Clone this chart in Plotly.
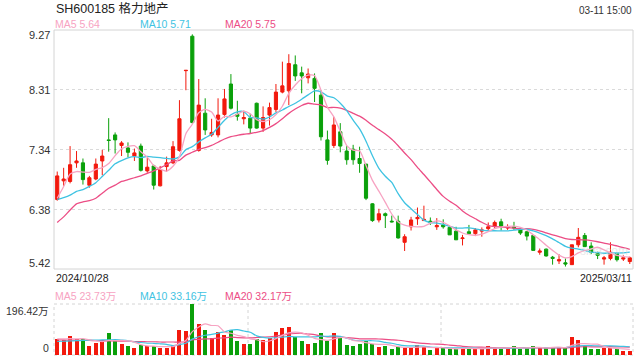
import plotly.graph_objects as go

# ---------------- data ----------------
first_date = "2024/10/28"
last_date = "2025/03/11"
title_text = "SH600185 格力地产"
time_text = "03-11 15:00"
watermark = "sina.com"
price_ticks = [5.42, 6.38, 7.34, 8.31, 9.27]
vol_max = 196.42

open_ = [6.54, 6.84, 6.83, 7.13, 7.13, 6.77, 6.87, 7.16, 7.50, 7.58,
         7.41, 7.37, 7.24, 7.40, 7.00, 7.08, 6.76, 7.07, 7.13, 7.33,
         8.615, 9.17, 7.33, 7.93, 7.58, 7.58, 7.91, 8.40, 7.91, 7.84,
         7.85, 8.09, 7.69, 7.90, 7.99, 8.27, 8.29, 8.71, 8.58, 8.50,
         8.49, 8.22, 7.50, 7.41, 7.63, 7.32, 7.35, 7.20, 7.11, 6.47,
         6.21, 6.31, 6.19, 6.19, 5.85, 6.10, 6.23, 6.20, 6.19, 6.10,
         6.13, 6.09, 6.03, 5.91, 6.02, 5.99, 6.03, 6.07, 6.11, 6.18,
         6.08, 6.10, 6.05, 6.02, 5.96, 5.69, 5.74, 5.61, 5.55, 5.52,
         5.49, 5.81, 5.96, 5.79, 5.67, 5.58, 5.59, 5.67, 5.58, 5.54]
high = [6.99, 7.05, 7.40, 7.32, 7.20, 6.92, 7.20, 7.34, 7.85, 7.62,
        7.48, 7.46, 7.36, 7.44, 7.21, 7.10, 7.08, 7.23, 7.48, 8.14,
        8.62, 9.20, 8.48, 8.17, 7.84, 8.17, 8.32, 8.56, 8.13, 7.97,
        7.92, 8.10, 8.04, 8.10, 8.40, 8.76, 8.88, 8.86, 8.68, 8.65,
        8.57, 8.30, 7.65, 7.87, 7.77, 7.40, 7.42, 7.39, 7.11, 6.48,
        6.39, 6.33, 6.28, 6.28, 5.98, 6.26, 6.41, 6.44, 6.25, 6.24,
        6.22, 6.09, 6.10, 5.97, 6.13, 6.08, 6.09, 6.17, 6.20, 6.23,
        6.14, 6.18, 6.08, 6.03, 5.96, 5.75, 5.75, 5.63, 5.66, 5.59,
        5.81, 6.08, 6.00, 5.85, 5.70, 5.63, 5.85, 5.69, 5.64, 5.62]
low = [6.52, 6.76, 6.80, 7.05, 6.78, 6.73, 6.85, 6.93, 7.31, 7.28,
       7.24, 7.22, 7.16, 6.99, 6.97, 6.70, 6.75, 6.99, 7.11, 7.31,
       8.30, 7.76, 7.31, 7.58, 7.55, 7.54, 7.86, 7.99, 7.81, 7.75,
       7.61, 7.68, 7.63, 7.73, 7.95, 8.25, 8.06, 8.45, 8.25, 8.41,
       8.11, 7.49, 7.10, 7.37, 7.30, 7.10, 7.10, 6.97, 6.53, 6.18,
       6.17, 6.08, 6.17, 5.91, 5.71, 6.04, 6.13, 6.20, 6.13, 6.05,
       6.07, 5.97, 5.89, 5.80, 5.99, 5.95, 5.94, 6.04, 6.08, 6.04,
       6.05, 6.05, 5.97, 5.88, 5.72, 5.65, 5.62, 5.49, 5.50, 5.46,
       5.49, 5.77, 5.78, 5.66, 5.58, 5.49, 5.56, 5.54, 5.55, 5.50]
close = [6.92, 6.87, 7.10, 7.16, 6.86, 6.89, 7.11, 7.24, 7.49, 7.50,
         7.45, 7.30, 7.29, 7.01, 7.06, 6.77, 7.02, 7.13, 7.39, 7.84,
         8.62, 7.78, 8.06, 7.66, 7.62, 7.90, 8.16, 8.01, 7.88, 7.86,
         7.69, 7.69, 7.86, 8.02, 8.27, 8.37, 8.73, 8.53, 8.53, 8.56,
         8.33, 7.55, 7.17, 7.74, 7.40, 7.18, 7.18, 7.12, 6.56, 6.20,
         6.31, 6.28, 6.18, 5.92, 5.94, 6.21, 6.25, 6.22, 6.17, 6.12,
         6.10, 5.97, 5.89, 5.92, 5.99, 6.05, 6.05, 6.10, 6.17, 6.11,
         6.10, 6.08, 6.00, 5.95, 5.72, 5.71, 5.63, 5.59, 5.57, 5.50,
         5.81, 5.93, 5.78, 5.69, 5.64, 5.60, 5.69, 5.57, 5.60, 5.60]
volume = [60.3, 59.0, 73.0, 60.0, 61.6, 36.0, 47.5, 51.0, 84.7, 56.5,
          42.3, 36.0, 28.2, 37.2, 33.4, 34.6, 28.2, 28.2, 36.0, 96.2,
          92.4, 196.42, 119.3, 95.0, 65.4, 87.2, 77.0, 95.0, 53.9, 42.3,
          42.3, 60.3, 57.7, 66.7, 88.5, 105.2, 107.8, 70.6, 53.9, 42.3,
          46.2, 84.7, 53.9, 84.7, 66.7, 38.5, 36.0, 42.3, 53.9, 42.3,
          30.8, 34.6, 23.1, 30.8, 28.2, 28.2, 38.5, 30.8, 19.2, 27.0,
          27.0, 23.1, 23.1, 27.0, 25.7, 23.1, 23.1, 34.6, 27.0, 24.4,
          27.0, 34.6, 23.1, 27.0, 34.6, 27.0, 27.0, 32.0, 29.5, 27.0,
          69.3, 57.7, 34.6, 23.1, 23.1, 27.0, 28.2, 23.1, 15.4, 15.4]

# moving-average values before a full window exists
ma5_head = [6.56, 6.75, 6.95, 6.99]
ma10_head = [6.54, 6.57, 6.61, 6.67, 6.70, 6.75, 6.81, 6.91, 7.01]
ma20_head = [6.17, 6.26, 6.37, 6.47, 6.50, 6.52, 6.56, 6.64, 6.72, 6.77,
             6.83, 6.86, 6.89, 6.92, 6.96, 7.00, 7.05, 7.10, 7.16]
vma5_head = [62, 62, 63, 62]
vma10_head = [52, 53, 54, 55, 56, 57, 57, 58, 58]
vma20_head = [58, 58, 57, 57, 56, 56, 55, 55, 54, 54,
              53, 53, 52, 52, 51, 51, 50, 50, 50]

legend_price = [("MA5 5.64", "#f7a3c2"), ("MA10 5.71", "#3fc3e2"), ("MA20 5.75", "#ec4d85")]
legend_vol = [("MA5 23.73万", "#f7a3c2"), ("MA10 33.16万", "#3fc3e2"), ("MA20 32.17万", "#ec4d85")]


def rolling(vals, w, head):
    out = list(head)
    for i in range(w - 1, len(vals)):
        out.append(sum(vals[i - w + 1:i + 1]) / w)
    return out


ma5 = rolling(close, 5, ma5_head)
ma10 = rolling(close, 10, ma10_head)
ma20 = rolling(close, 20, ma20_head)
vma5 = rolling(volume, 5, vma5_head)
vma10 = rolling(volume, 10, vma10_head)
vma20 = rolling(volume, 20, vma20_head)

# ---------------- style ----------------
RED = "#f2190d"
GREEN = "#0aa00a"
C_MA5, C_MA10, C_MA20 = "#f7a3c2", "#3fc3e2", "#ec4d85"
FONT = "Liberation Sans, Arial, Noto Sans CJK SC, sans-serif"
W, H = 640, 360
PX0, PX1 = 54, 633          # plot left/right (px)
PY0, PY1 = 30, 269          # price top/bottom (px)
VY0, VY1 = 304, 355         # volume top/bottom (px)


def px(x):
    return x / W


def py(y):
    return 1 - y / H


n = len(close)
idx = list(range(n))

fig = go.Figure()
fig.add_trace(go.Candlestick(
    x=idx, open=open_, high=high, low=low, close=close,
    increasing=dict(line=dict(color=RED, width=1), fillcolor=RED),
    decreasing=dict(line=dict(color=GREEN, width=1), fillcolor=GREEN),
    whiskerwidth=0, showlegend=False, hoverinfo="skip",
    xaxis="x", yaxis="y"))
for vals, col in [(ma20, C_MA20), (ma10, C_MA10), (ma5, C_MA5)]:
    fig.add_trace(go.Scatter(x=idx, y=vals, mode="lines",
                             line=dict(color=col, width=1.3, shape="spline", smoothing=0.6),
                             showlegend=False, hoverinfo="skip", xaxis="x", yaxis="y"))

vcolors = [RED if c >= o else GREEN for o, c in zip(open_, close)]
fig.add_trace(go.Bar(x=idx, y=volume, marker=dict(color=vcolors, line=dict(width=0)),
                     width=0.62, showlegend=False, hoverinfo="skip",
                     xaxis="x2", yaxis="y2"))
for vals, col in [(vma20, C_MA20), (vma10, C_MA10), (vma5, C_MA5)]:
    fig.add_trace(go.Scatter(x=idx, y=vals, mode="lines",
                             line=dict(color=col, width=1.2, shape="spline", smoothing=0.6),
                             showlegend=False, hoverinfo="skip", xaxis="x2", yaxis="y2"))

xd = [px(PX0), px(PX1)]
fig.update_layout(
    width=W, height=H, margin=dict(l=0, r=0, t=0, b=0),
    paper_bgcolor="white", plot_bgcolor="white",
    font=dict(family=FONT, color="#333333"),
    xaxis=dict(domain=xd, range=[-0.5, n - 0.5], visible=False,
               rangeslider=dict(visible=False), anchor="y", fixedrange=True),
    yaxis=dict(domain=[py(PY1), py(PY0)], range=[price_ticks[0], price_ticks[-1]],
               tickvals=price_ticks[1:-1], showticklabels=False, showgrid=True,
               gridcolor="#dadada", griddash="dot", gridwidth=1.2, zeroline=False,
               anchor="x", fixedrange=True),
    xaxis2=dict(domain=xd, range=[-0.5, n - 0.5], visible=False, anchor="y2", fixedrange=True),
    yaxis2=dict(domain=[py(VY1), py(VY0)], range=[0, vol_max], visible=False,
                showgrid=False, zeroline=False, anchor="x2", fixedrange=True),
    bargap=0,
)

shapes = [
    dict(type="rect", xref="paper", yref="paper", x0=px(PX0), x1=px(PX1),
         y0=py(PY1), y1=py(PY0), line=dict(color="#d4d4d4", width=1), layer="above"),
    dict(type="rect", xref="paper", yref="paper", x0=px(PX0), x1=px(PX1),
         y0=py(VY1), y1=py(VY0), line=dict(color="#d4d4d4", width=1, dash="dot"), layer="below"),
]
for frac in (1 / 3, 2 / 3):
    xx = px(PX0 + (PX1 - PX0) * frac + 1)
    shapes.append(dict(type="line", xref="paper", yref="paper", x0=xx, x1=xx,
                       y0=py(VY1), y1=py(VY0), line=dict(color="#d4d4d4", width=1, dash="dot"),
                       layer="below"))
fig.update_layout(shapes=shapes)

ann = []


def text(t, x, y, size, color="#333333", anchor="left"):
    ann.append(dict(text=t, x=px(x), y=py(y), xref="paper", yref="paper",
                    xanchor=anchor, yanchor="middle", showarrow=False,
                    font=dict(size=size, color=color, family=FONT)))


text(title_text, 54, 8, 12.5, "#222222")
text(time_text, 634, 10, 10, "#333333", "right")
for (t, c), x in zip(legend_price, (53, 138, 223)):
    text(t, x, 24, 10.5, c)
label_y = [263, 210, 150, 90, 35]
for v, yy in zip(price_ticks, label_y):
    text(f"{v:.2f}", 52, yy, 11, "#333333", "right")
text(first_date, 54, 278, 10.5, "#222222")
text(last_date, 634, 278, 10.5, "#222222", "right")
for (t, c), x in zip(legend_vol, (53, 138, 223)):
    text(t, x, 296, 10.5, c)
text(f"{vol_max:.2f}万", 51, 311, 10.5, "#333333", "right")
text("0", 51, 348, 10.5, "#333333", "right")
text(watermark, 604, 251, 12, "rgba(215,215,215,0.55)", "center")
fig.update_layout(annotations=ann)

fig.write_html("out.html")
